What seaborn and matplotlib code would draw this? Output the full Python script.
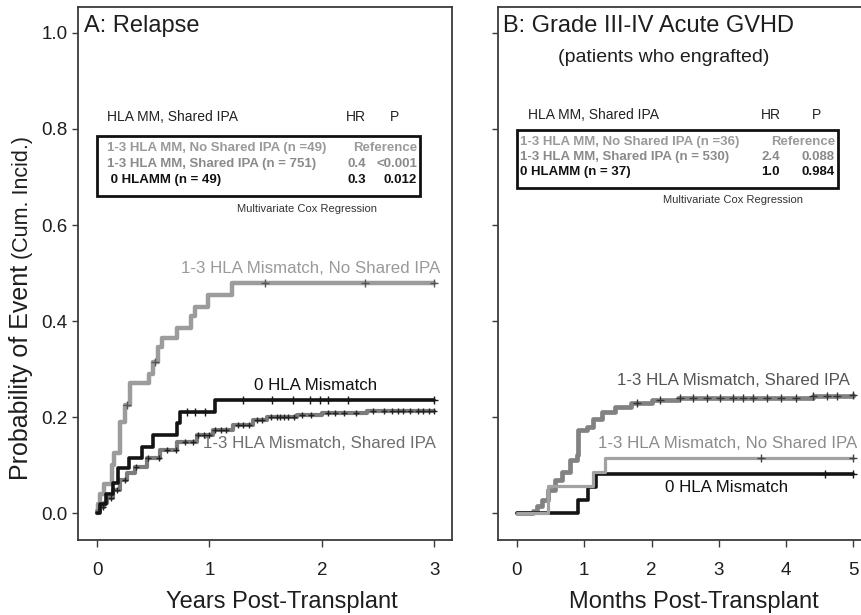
import numpy as np
import pandas as pd
import matplotlib
matplotlib.use("Agg")
import matplotlib.pyplot as plt
from matplotlib.patches import Rectangle
import seaborn as sns

# ---------------- Panel A: relapse, years post-transplant ----------------
a_noshared_t = [0.0, 0.01, 0.03, 0.06, 0.13, 0.15, 0.20, 0.25, 0.29, 0.46, 0.50,
                0.545, 0.575, 0.71, 0.84, 0.87, 0.99, 1.20, 3.0]
a_noshared_p = [0.0, 0.02, 0.04, 0.06, 0.10, 0.125, 0.19, 0.225, 0.27, 0.29, 0.315,
                0.345, 0.365, 0.385, 0.41, 0.43, 0.455, 0.48, 0.48]
a_noshared_cens = [0.27, 0.52, 1.49, 2.38, 3.0]

a_zero_t = [0.0, 0.03, 0.08, 0.145, 0.19, 0.28, 0.40, 0.50, 0.71, 0.74, 1.05, 3.0]
a_zero_p = [0.0, 0.02, 0.04, 0.0625, 0.094, 0.115, 0.138, 0.1625, 0.1875, 0.21, 0.235, 0.235]
a_zero_cens = [0.80, 0.87, 0.96, 1.30, 1.56, 1.74, 1.89, 1.98, 2.05, 2.23, 3.0]

a_shared_t = [0.0, 0.03, 0.06, 0.09, 0.14, 0.20, 0.27, 0.34, 0.44, 0.56, 0.71, 0.886,
              1.03, 1.21, 1.39, 1.51, 1.78, 2.0, 2.4, 3.0]
a_shared_p = [0.005, 0.012, 0.022, 0.031, 0.048, 0.069, 0.083, 0.096, 0.115, 0.131, 0.148,
              0.1625, 0.173, 0.183, 0.194, 0.20, 0.204, 0.209, 0.2125, 0.2125]
a_shared_cens = [0.05, 0.12, 0.18, 0.25, 0.35, 0.45, 0.55, 0.62, 0.70, 0.78, 0.85, 0.90,
                 0.95, 1.00, 1.05, 1.10, 1.15, 1.25, 1.30, 1.35, 1.42, 1.47, 1.55, 1.60,
                 1.63, 1.66, 1.70, 1.75, 1.82, 1.90, 2.05, 2.12, 2.20, 2.30, 2.45, 2.55,
                 2.62, 2.68, 2.72, 2.78, 2.85, 2.90, 2.95, 3.0]

# ---------------- Panel B: grade III-IV acute GVHD, months ----------------
b_shared_t = [0.0, 0.24, 0.30, 0.37, 0.465, 0.565, 0.664, 0.79, 0.887, 0.91, 1.036, 1.134,
              1.26, 1.456, 1.70, 2.0, 2.4, 2.95, 4.4, 5.0]
b_shared_p = [0.0, 0.005, 0.014, 0.027, 0.048, 0.069, 0.086, 0.11, 0.121, 0.173, 0.18, 0.197,
              0.211, 0.222, 0.229, 0.235, 0.239, 0.24, 0.244, 0.246]
b_shared_cens = [1.78, 2.12, 2.42, 2.62, 2.82, 3.02, 3.21, 3.36, 3.51, 3.71, 3.93, 4.15,
                 4.40, 4.60, 4.75, 5.0]

b_noshared_t = [0.0, 0.465, 1.13, 1.31, 5.0]
b_noshared_p = [0.0, 0.057, 0.085, 0.114, 0.114]
b_noshared_cens = [3.63, 5.0]

b_zero_t = [0.0, 0.91, 1.06, 1.18, 5.0]
b_zero_p = [0.0, 0.027, 0.054, 0.081, 0.081]
b_zero_cens = [4.58, 5.0]

y_ticks = [0.0, 0.2, 0.4, 0.6, 0.8, 1.0]
y_ticklabels = ["0.0", "0.2", "0.4", "0.6", "0.8", "1.0"]
a_xticks = [0, 1, 2, 3]
b_xticks = [0, 1, 2, 3, 4, 5]

a_table = [("1-3 HLA MM, No Shared IPA (n =49)", "", "Reference"),
           ("1-3 HLA MM, Shared IPA (n = 751)", "0.4", "<0.001"),
           (" 0 HLAMM (n = 49)", "0.3", "0.012")]
b_table = [("1-3 HLA MM, No Shared IPA (n =36)", "", "Reference"),
           ("1-3 HLA MM, Shared IPA (n = 530)", "2.4", "0.088"),
           ("0 HLAMM (n = 37)", "1.0", "0.984")]

# ---------------- style ----------------
sns.set_theme(style="white")
plt.rcParams["font.family"] = ["Liberation Sans", "DejaVu Sans"]
NARROW = ["Liberation Sans Narrow", "Liberation Sans", "DejaVu Sans"]

W, H = 862, 615
fig = plt.figure(figsize=(W / 100, H / 100), dpi=100)


def fx(px):
    return px / W


def fy(py):
    return 1 - py / H


axA = fig.add_axes([fx(78), fy(540), 374 / W, 533 / H])
axB = fig.add_axes([fx(498), fy(540), 379 / W, 533 / H])


def step_at(t, p, c):
    t = np.asarray(t)
    idx = np.searchsorted(t, c, side="right") - 1
    return np.asarray(p)[idx]


def curve(ax, t, p, cens, color, lw, mcolor, ms=28, mlw=1.0, z=2):
    df = pd.DataFrame({"t": t, "p": p})
    sns.lineplot(data=df, x="t", y="p", drawstyle="steps-post", estimator=None,
                 sort=False, color=color, lw=lw, ax=ax, zorder=z)
    cdf = pd.DataFrame({"t": cens, "p": step_at(t, p, cens)})
    sns.scatterplot(data=cdf, x="t", y="p", marker="+", s=ms, color=mcolor,
                    linewidth=mlw, ax=ax, zorder=z + 0.5)


# Panel A curves
curve(axA, a_noshared_t, a_noshared_p, a_noshared_cens, "#9c9c9c", 3.2, "#555555", z=2)
curve(axA, a_shared_t, a_shared_p, a_shared_cens, "#7c7c7c", 3.0, "#222222", ms=22, z=3)
curve(axA, a_zero_t, a_zero_p, a_zero_cens, "#141414", 2.6, "#141414", z=4)

# Panel B curves
curve(axB, b_shared_t, b_shared_p, b_shared_cens, "#828282", 3.4, "#333333", z=2)
curve(axB, b_zero_t, b_zero_p, b_zero_cens, "#141414", 2.6, "#141414", z=3)
curve(axB, b_noshared_t, b_noshared_p, b_noshared_cens, "#a2a2a2", 2.3, "#444444", z=4)

spine_c = "#3a3a3a"
for ax, xt, xl in [(axA, a_xticks, (-0.169, 3.156)), (axB, b_xticks, (-0.282, 5.35))]:
    ax.set_xlim(*xl)
    ax.set_ylim(-0.056, 1.054)
    ax.set_xticks(xt)
    ax.set_xticklabels([str(v) for v in xt])
    ax.set_yticks(y_ticks)
    ax.set_xlabel("")
    ax.set_ylabel("")
    for s in ax.spines.values():
        s.set_color(spine_c)
        s.set_linewidth(1.3)
    ax.tick_params(axis="x", bottom=True, direction="out", length=5, width=1.0,
                   color=spine_c, pad=10.5, labelsize=13.5, labelcolor="#1e1e1e")
    ax.tick_params(axis="y", left=True, direction="out", length=4.5, width=1.0,
                   color=spine_c, pad=3, labelsize=13.5, labelcolor="#1e1e1e")

axA.set_yticklabels(y_ticklabels)
axB.set_yticklabels([])

# x-axis titles
fig.text(fx(282), fy(608), "Years Post-Transplant", ha="center", va="baseline",
         fontsize=17, color="#1e1e1e")
fig.text(fx(694), fy(608), "Months Post-Transplant", ha="center", va="baseline",
         fontsize=17, color="#1e1e1e")

# y-axis title in two sizes
t1 = fig.text(fx(28), fy(480), "Probability of Event", rotation=90,
              rotation_mode="anchor", ha="left", va="baseline", fontsize=18,
              color="#1e1e1e")
fig.canvas.draw()
bb = t1.get_window_extent(renderer=fig.canvas.get_renderer())
fig.text(fx(28), (bb.y1 + 6) / fig.bbox.height, "(Cum. Incid.)", rotation=90,
         rotation_mode="anchor", ha="left", va="baseline", fontsize=15.5,
         color="#1e1e1e")

# panel titles
fig.text(fx(84), fy(26), "A: Relapse", ha="left", va="center", fontsize=17,
         color="#1e1e1e")
fig.text(fx(503), fy(26), "B: Grade III-IV Acute GVHD", ha="left", va="center",
         fontsize=17, color="#1e1e1e")
fig.text(fx(558), fy(58), "(patients who engrafted)", ha="left", va="center",
         fontsize=14, color="#1e1e1e")

# curve labels
axA.text(1.90, 0.51, "1-3 HLA Mismatch, No Shared IPA", ha="center", va="center",
         fontsize=12.2, color="#9a9a9a")
axA.text(1.94, 0.265, "0 HLA Mismatch", ha="center", va="center", fontsize=12.2,
         color="#111111")
axA.text(1.98, 0.146, "1-3 HLA Mismatch, Shared IPA", ha="center", va="center",
         fontsize=12.2, color="#6e6e6e")
axB.text(3.21, 0.277, "1-3 HLA Mismatch, Shared IPA", ha="center", va="center",
         fontsize=12.2, color="#555555")
axB.text(1.21, 0.146, "1-3 HLA Mismatch, No Shared IPA", ha="left", va="center",
         fontsize=12.2, color="#8c8c8c")
axB.text(3.12, 0.054, "0 HLA Mismatch", ha="center", va="center", fontsize=12.2,
         color="#111111")

# Cox regression tables
row_colors = ["#9a9a9a", "#8a8a8a", "#111111"]


def cox_table(rows, x0, hdr_y, hr_x, p_x, box, row_y, name_x, hr_r, p_r, foot):
    fig.text(fx(x0), fy(hdr_y), "HLA MM, Shared IPA", ha="left", va="center",
             fontsize=10, family=NARROW, color="#222222")
    fig.text(fx(hr_x), fy(hdr_y), "HR", ha="center", va="center", fontsize=10,
             family=NARROW, color="#222222")
    fig.text(fx(p_x), fy(hdr_y), "P", ha="center", va="center", fontsize=10,
             family=NARROW, color="#222222")
    bx0, by0, bx1, by1 = box
    fig.add_artist(Rectangle((fx(bx0), fy(by1)), (bx1 - bx0) / W, (by1 - by0) / H,
                             transform=fig.transFigure, fill=False,
                             edgecolor="#111111", lw=2.0))
    for (name, hr, p), yy, col in zip(rows, row_y, row_colors):
        fig.text(fx(name_x), fy(yy), name, ha="left", va="center", fontsize=9.5,
                 family=NARROW, weight="bold", color=col)
        if hr:
            fig.text(fx(hr_r), fy(yy), hr, ha="right", va="center", fontsize=9.5,
                     family=NARROW, weight="bold", color=col)
        fig.text(fx(p_r), fy(yy), p, ha="right", va="center", fontsize=9.5,
                 family=NARROW, weight="bold", color=col)
    fig.text(fx(foot[0]), fy(foot[1]), "Multivariate Cox Regression", ha="center",
             va="center", fontsize=8, family=NARROW, color="#333333")


cox_table(a_table, 107, 117, 356, 395, (97, 136, 420, 196), [148, 164, 180], 107,
          366, 417, (307, 209))
cox_table(b_table, 528, 115, 771, 817, (517, 130, 838, 188), [142, 157, 172], 520,
          780, 835, (733, 200))

fig.savefig("out.png", dpi=100)
